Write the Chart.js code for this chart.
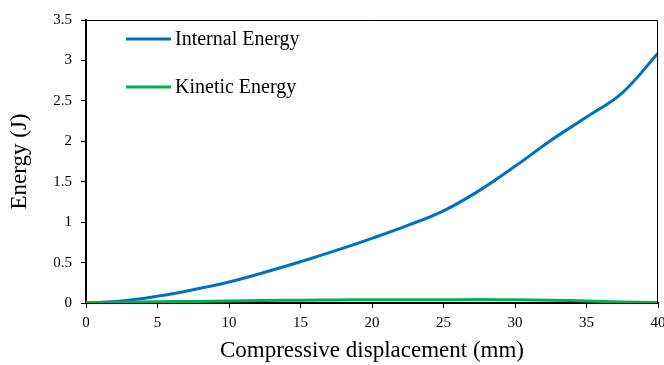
<!DOCTYPE html>
<html>
<head>
<meta charset="utf-8">
<script src="https://cdn.jsdelivr.net/npm/chart.js@4/dist/chart.umd.min.js"></script>
<style>
  html, body { margin: 0; padding: 0; background: #fff; }
  #wrap { width: 664px; height: 365px; }
</style>
</head>
<body>
<div id="wrap"><canvas id="energyChart"></canvas></div>
<script>
const displacement = [0, 2.5, 5, 7.5, 10, 12.5, 15, 17.5, 20, 22.5, 25, 27.5, 30, 32.5, 35, 37.5, 40]
const internalEnergy = [0, 0.025, 0.085, 0.165, 0.26, 0.38, 0.51, 0.65, 0.80, 0.96, 1.14, 1.39, 1.69, 2.01, 2.30, 2.60, 3.09]
const kineticEnergy = [0, 0.008, 0.015, 0.02, 0.025, 0.03, 0.035, 0.038, 0.04, 0.04, 0.04, 0.042, 0.04, 0.035, 0.025, 0.012, 0.005]
const seriesLabels = ['Internal Energy', 'Kinetic Energy']
const seriesColors = ['#0070C0', '#00B050']

const serif = "'Liberation Serif', 'Times New Roman', serif"

const toPoints = (ys) => displacement.map((x, i) => ({ x: x, y: ys[i] }))

// frame on top/right + legend drawn inside the plot
const framePlugin = {
    id: 'frameAndLegend',
    afterDraw(chart) {
        const { ctx, chartArea } = chart
        ctx.save()
        ctx.strokeStyle = '#000'
        ctx.lineWidth = 1
        ctx.beginPath()
        ctx.moveTo(chartArea.left, chartArea.top + 0.5)
        ctx.lineTo(chartArea.right - 0.5, chartArea.top + 0.5)
        ctx.lineTo(chartArea.right - 0.5, chartArea.bottom)
        ctx.stroke()

        ctx.font = '20px ' + serif
        ctx.textBaseline = 'middle'
        ctx.fillStyle = '#000'
        chart.data.datasets.forEach((ds, i) => {
            const y = 39 + i * 48
            ctx.strokeStyle = ds.borderColor
            ctx.lineWidth = 3
            ctx.beginPath()
            ctx.moveTo(126, y)
            ctx.lineTo(171, y)
            ctx.stroke()
            ctx.fillText(ds.label, 175, y + 1)
        })
        ctx.restore()
    }
}

new Chart(document.getElementById('energyChart'), {
    type: 'line',
    data: {
        datasets: [
            {
                label: seriesLabels[0],
                data: toPoints(internalEnergy),
                borderColor: seriesColors[0],
                borderWidth: 3,
                pointRadius: 0,
                tension: 0.4,
                order: 1
            },
            {
                label: seriesLabels[1],
                data: toPoints(kineticEnergy),
                borderColor: seriesColors[1],
                borderWidth: 3,
                pointRadius: 0,
                tension: 0.4,
                order: 0
            }
        ]
    },
    options: {
        responsive: true,
        maintainAspectRatio: false,
        animation: false,
        layout: { padding: { left: 0, right: 6, top: 20, bottom: 0 } },
        plugins: {
            legend: { display: false },
            tooltip: { enabled: false }
        },
        scales: {
            x: {
                type: 'linear',
                min: 0,
                max: 40,
                ticks: { stepSize: 5, color: '#000', font: { family: serif, size: 15 }, padding: 6, maxRotation: 0 },
                grid: { drawOnChartArea: false, drawTicks: true, tickLength: 5, color: '#000', lineWidth: 1 },
                border: { display: true, color: '#000', width: 2 },
                title: { display: true, text: 'Compressive displacement (mm)', color: '#000', font: { family: serif, size: 23 }, padding: { top: 6, bottom: 0 } },
                afterFit(scale) {
                    scale.height = 62
                    scale.paddingRight = 0
                    scale.paddingLeft = 0
                }
            },
            y: {
                min: 0,
                max: 3.5,
                ticks: {
                    stepSize: 0.5, color: '#000', font: { family: serif, size: 15 }, padding: 9,
                    callback: (v) => String(v)
                },
                grid: { drawOnChartArea: false, drawTicks: true, tickLength: 5, color: '#000', lineWidth: 1 },
                border: { display: true, color: '#000', width: 2 },
                title: { display: true, text: 'Energy (J)', color: '#000', font: { family: serif, size: 23 }, padding: { top: 6, bottom: 0 } },
                afterFit(scale) {
                    scale.width = 86
                }
            }
        }
    },
    plugins: [framePlugin]
})
</script>
</body>
</html>
